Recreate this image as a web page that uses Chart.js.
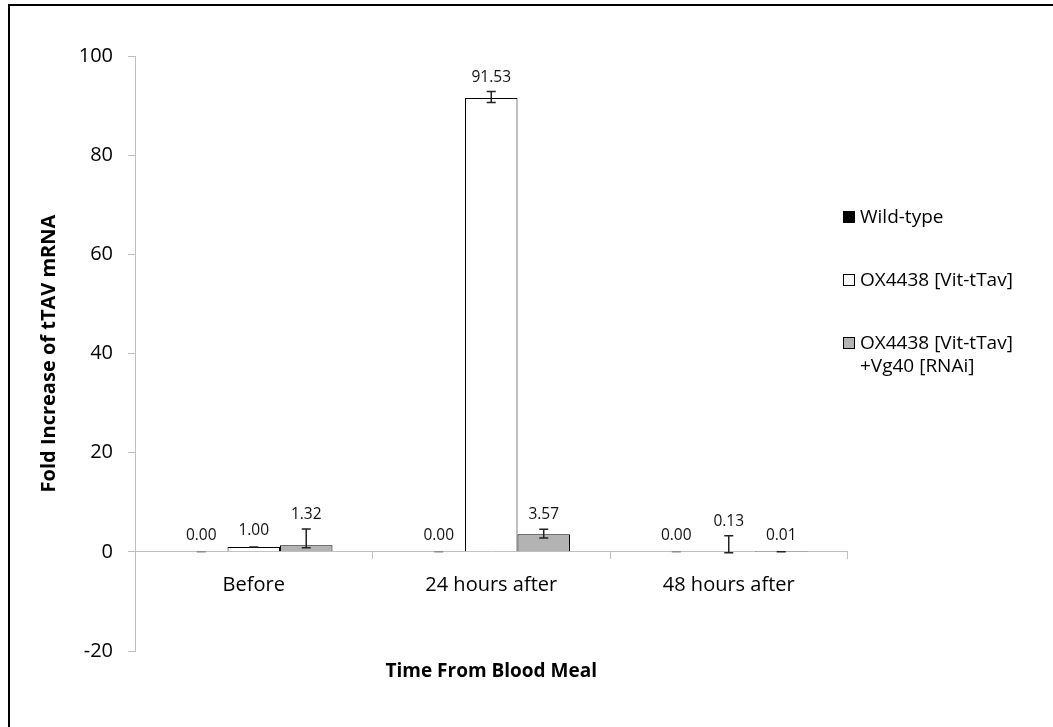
<!DOCTYPE html>
<html>
<head>
<meta charset="utf-8">
<script src="https://cdn.jsdelivr.net/npm/chart.js"></script>
<style>
  html, body { margin: 0; padding: 0; background: #fff; overflow: hidden; }
  #wrap { position: relative; width: 1053px; height: 727px; overflow: hidden; }
  #frame { position: absolute; left: 8px; top: 4px; width: 1100px; height: 800px; border: 2px solid #000; pointer-events: none; }
  canvas { position: absolute; left: 0; top: 0; }
</style>
</head>
<body>
<div id="wrap">
  <canvas id="chart" width="1053" height="727"></canvas>
  <div id="frame"></div>
</div>
<script>
// data ------------------------------------------------------------------------->

const labels = ['Before', '24 hours after', '48 hours after'];
const seriesNames = ['Wild-type', 'OX4438 [Vit-tTav]', ['OX4438 [Vit-tTav]', '+Vg40 [RNAi]']];
const seriesColors = ['#000000', '#ffffff', '#b3b3b3'];

const wildType = [0.00, 0.00, 0.00];
const vitTtav = [1.00, 91.53, 0.13];
const vitRnai = [1.32, 3.57, 0.01];

// error bars (up / down)
const wildTypeErrUp = [0, 0, 0];
const wildTypeErrDown = [0, 0, 0];
const vitTtavErrUp = [0, 1.3, 3.1];
const vitTtavErrDown = [0, 0.9, 0.3];
const vitRnaiErrUp = [3.3, 1.0, 0];
const vitRnaiErrDown = [0.5, 0.8, 0];

const yMin = -20;
const yMax = 100;
const yStep = 20;

// plugins ---------------------------------------------------------------------->

const errorBars = {
  id: 'errorBars',
  afterDatasetsDraw(chart) {
    const ctx = chart.ctx;
    const y = chart.scales.y;
    chart.data.datasets.forEach((ds, i) => {
      const meta = chart.getDatasetMeta(i);
      meta.data.forEach((bar, j) => {
        const v = ds.data[j];
        const top = y.getPixelForValue(v + ds.errUp[j]);
        const bottom = y.getPixelForValue(v - ds.errDown[j]);
        ctx.save();
        ctx.strokeStyle = i === 0 ? '#8c8c8c' : '#222';
        ctx.lineWidth = 1.5;
        ctx.beginPath();
        ctx.moveTo(bar.x, top);
        ctx.lineTo(bar.x, bottom);
        ctx.moveTo(bar.x - 4.5, top);
        ctx.lineTo(bar.x + 4.5, top);
        ctx.moveTo(bar.x - 4.5, bottom);
        ctx.lineTo(bar.x + 4.5, bottom);
        ctx.stroke();
        ctx.restore();
      });
    });
  }
};

const valueLabels = {
  id: 'valueLabels',
  afterDatasetsDraw(chart) {
    const ctx = chart.ctx;
    const y = chart.scales.y;
    ctx.save();
    ctx.font = '15.5px "Open Sans", sans-serif';
    ctx.fillStyle = '#111';
    ctx.textAlign = 'center';
    ctx.textBaseline = 'alphabetic';
    chart.data.datasets.forEach((ds, i) => {
      const meta = chart.getDatasetMeta(i);
      meta.data.forEach((bar, j) => {
        const v = ds.data[j];
        const barTop = y.getPixelForValue(v);
        const errTop = y.getPixelForValue(v + ds.errUp[j]);
        const base = Math.min(barTop - 12, errTop - 10);
        ctx.fillText(v.toFixed(2), bar.x, base);
      });
    });
    ctx.restore();
  }
};

const sideLegend = {
  id: 'sideLegend',
  afterDraw(chart) {
    const ctx = chart.ctx;
    const x = chart.chartArea.right - 4.5;
    let rowY = 217;
    ctx.save();
    ctx.font = '19px "Open Sans", sans-serif';
    ctx.textBaseline = 'middle';
    ctx.textAlign = 'left';
    chart.data.datasets.forEach((ds) => {
      ctx.fillStyle = ds.backgroundColor;
      ctx.fillRect(x, rowY - 6, 12, 12);
      ctx.strokeStyle = '#000';
      ctx.lineWidth = 1;
      ctx.strokeRect(x + 0.5, rowY - 5.5, 11, 11);
      ctx.fillStyle = '#000';
      const lines = Array.isArray(ds.label) ? ds.label : [ds.label];
      lines.forEach((t, k) => ctx.fillText(t, x + 17, rowY + 1 + k * 23));
      rowY += 63;
    });
    ctx.restore();
  }
};

// chart ------------------------------------------------------------------------>

const ctx = document.getElementById('chart').getContext('2d');

Chart.defaults.font.family = '"Open Sans", sans-serif';
Chart.defaults.color = '#000';

const config = {
  type: 'bar',
  data: {
    labels: labels,
    datasets: [
      { label: seriesNames[0], data: wildType, errUp: wildTypeErrUp, errDown: wildTypeErrDown, backgroundColor: seriesColors[0] },
      { label: seriesNames[1], data: vitTtav, errUp: vitTtavErrUp, errDown: vitTtavErrDown, backgroundColor: seriesColors[1] },
      { label: seriesNames[2], data: vitRnai, errUp: vitRnaiErrUp, errDown: vitRnaiErrDown, backgroundColor: seriesColors[2] }
    ].map(ds => Object.assign(ds, {
      xAxisID: 'x',
      borderColor: '#000',
      borderWidth: 1,
      categoryPercentage: 0.663,
      barPercentage: 1
    }))
  },
  options: {
    responsive: false,
    animation: false,
    layout: { padding: { top: 56, right: 205.5, bottom: 0, left: 0 } },
    plugins: {
      legend: { display: false },
      tooltip: { enabled: false }
    },
    scales: {
      x: {
        type: 'category',
        position: { y: 0 },
        offset: true,
        grid: { display: true, drawOnChartArea: false, offset: true, tickLength: 7, color: '#bfbfbf' },
        border: { color: '#bfbfbf', width: 1 },
        ticks: { font: { size: 20 }, padding: 14, color: '#000' }
      },
      x2: {
        type: 'category',
        axis: 'x',
        position: 'bottom',
        grid: { display: false },
        border: { display: false },
        ticks: { display: false },
        title: {
          display: true,
          text: 'Time From Blood Meal',
          font: { size: 19, weight: 'bold' },
          color: '#000',
          padding: { top: 0, bottom: 44 }
        },
        afterFit(scale) { scale.height = 76; }
      },
      y: {
        min: yMin,
        max: yMax,
        ticks: { stepSize: yStep, font: { size: 20 }, padding: 15, color: '#000' },
        grid: { display: true, drawOnChartArea: false, tickLength: 7, color: '#bfbfbf' },
        border: { color: '#bfbfbf', width: 1 },
        title: {
          display: true,
          text: 'Fold Increase of tTAV mRNA',
          font: { size: 20, weight: 'bold' },
          color: '#000',
          padding: { top: 37, bottom: 0 }
        },
        afterFit(scale) { scale.width = 135; }
      }
    }
  },
  plugins: [errorBars, valueLabels, sideLegend]
};

new Chart(ctx, config);
</script>
</body>
</html>
